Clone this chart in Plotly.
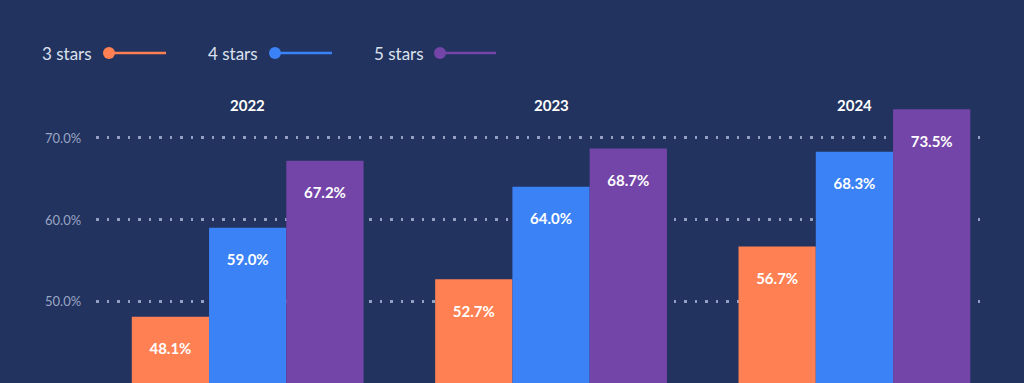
import plotly.graph_objects as go

years = ["2022", "2023", "2024"]
series_names = ["3 stars", "4 stars", "5 stars"]
stars3 = [48.1, 52.7, 56.7]
stars4 = [59.0, 64.0, 68.3]
stars5 = [67.2, 68.7, 73.5]
tick_vals = [50, 60, 70]
tick_text = ["50.0%", "60.0%", "70.0%"]

colors = ["#FF8153", "#3B82F6", "#7445A8"]
BG = "#22335F"
FONT = "Lato"

W, H = 1024, 383
ML, MR, MT, MB = 96, 44, 56, 0
pw = W - ML - MR
ph = H - MT - MB


def px_x(px):
    return (px - ML) / pw


def px_y(py):
    return (H - MB - py) / ph


fig = go.Figure()
for name, vals, col in zip(series_names, [stars3, stars4, stars5], colors):
    fig.add_trace(go.Bar(
        x=years, y=vals, name=name, marker=dict(color=col, line=dict(width=0)),
        texttemplate="&nbsp;<br>%{y:.1f}%", textposition="inside", insidetextanchor="end",
        textangle=0, constraintext="none",
        textfont=dict(family=FONT, size=15, color="white", weight="bold"),
        showlegend=False, hoverinfo="skip",
    ))

# Year labels above each group (category index positions)
for i, yr in enumerate(years):
    fig.add_annotation(x=i, y=74.0, xref="x", yref="y", text=f"<b>{yr}</b>",
                       showarrow=False, yanchor="middle",
                       font=dict(family=FONT, size=15, color="white"))

# Y tick labels drawn from the y-axis scale (right-aligned next to the plot area)
for v, t in zip(tick_vals, tick_text):
    fig.add_annotation(x=0, y=v, xref="paper", yref="y", text=t, showarrow=False,
                       xanchor="right", yanchor="middle", xshift=-13,
                       font=dict(family=FONT, size=13, color="#9AA5C4"))

# Custom legend: text followed by marker + line
legend_items = [(40, 109, 166), (206, 275, 332), (372, 440, 496)]
LEG_Y = 53
for name, col, (tx, cx, lx) in zip(series_names, colors, legend_items):
    fig.add_annotation(x=px_x(tx), y=px_y(LEG_Y), xref="paper", yref="paper", text=name,
                       showarrow=False, xanchor="left", yanchor="middle",
                       font=dict(family=FONT, size=17, color="#DCE1EE"))
    fig.add_shape(type="line", xref="paper", yref="paper",
                  x0=px_x(cx), x1=px_x(lx), y0=px_y(LEG_Y), y1=px_y(LEG_Y),
                  line=dict(color=col, width=2.5))
    fig.add_shape(type="circle", xref="paper", yref="paper",
                  x0=px_x(cx - 6), x1=px_x(cx + 6),
                  y0=px_y(LEG_Y + 6), y1=px_y(LEG_Y - 6),
                  line=dict(width=0), fillcolor=col)

fig.update_layout(
    width=W, height=H,
    margin=dict(l=ML, r=MR, t=MT, b=MB, pad=0, autoexpand=False),
    paper_bgcolor=BG, plot_bgcolor=BG,
    barmode="group", bargap=0.236, bargroupgap=0,
    font=dict(family=FONT),
    xaxis=dict(type="category", range=[-0.5, 2.414], showticklabels=False,
               showgrid=False, zeroline=False, showline=False, ticks=""),
    yaxis=dict(range=[40, 80], tickvals=tick_vals, showticklabels=False,
               showgrid=True, gridcolor="#93A0C2", gridwidth=2.5, griddash="2.5px,8px",
               zeroline=False, showline=False, ticks=""),
)

fig.write_html("out.html", config={"displayModeBar": False},
               post_script="document.body.style.margin='0';document.body.style.background='%s';" % BG)
